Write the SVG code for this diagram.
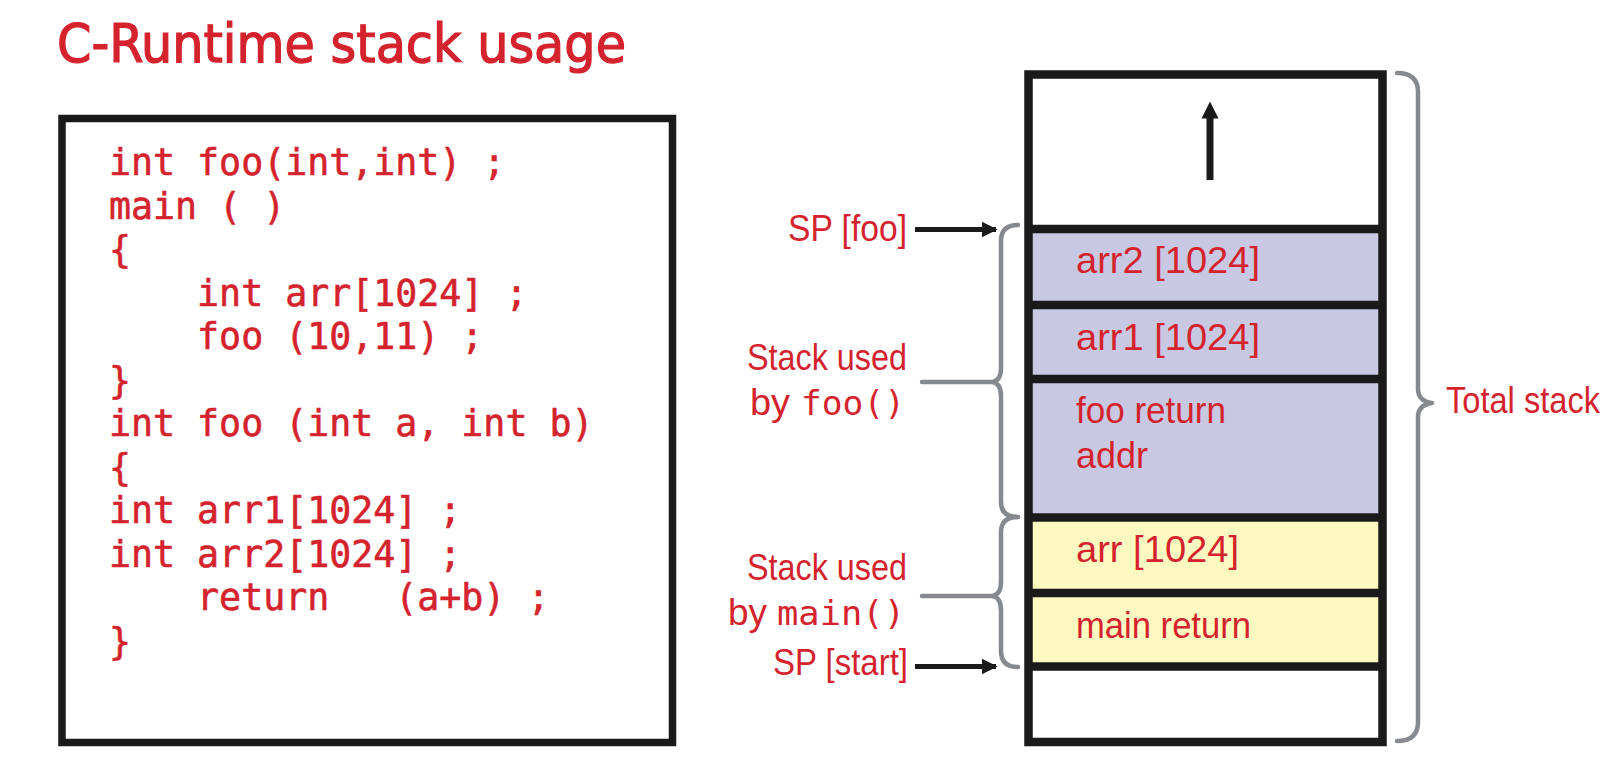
<svg xmlns="http://www.w3.org/2000/svg" width="1618" height="781" viewBox="0 0 1618 781">
<style>
.title{font-family:"DejaVu Sans Condensed","DejaVu Sans",sans-serif;font-size:54px;fill:#d4232d;stroke:#d4232d;stroke-width:1.2}
.code{font-family:"DejaVu Sans Mono","Liberation Mono",monospace;font-size:36.6px;fill:#d4232d;stroke:#d4232d;stroke-width:0.6}
.lbl{font-family:"Liberation Sans",Arial,sans-serif;font-size:37px;fill:#d4232d}
.mono{font-family:"DejaVu Sans Mono","Liberation Mono",monospace;font-size:34px;fill:#d4232d}
.box{fill:#ffffff;stroke:#1a1a1a;stroke-width:7.5}
.div{stroke:#1a1a1a;stroke-width:8.5}
.brace{fill:none;stroke:#868a8e;stroke-width:4.5;stroke-linecap:round;stroke-linejoin:round}
.arrow{stroke:#1a1a1a;stroke-width:5}
.purple{fill:#c9c8e2}
.yellow{fill:#fef9c1}
</style>
<defs>
<marker id="ah" viewBox="0 0 10 10" refX="9" refY="5" markerWidth="3.2" markerHeight="3.4" orient="auto" markerUnits="strokeWidth">
<path d="M0,0 L10,5 L0,10 Z" fill="#1a1a1a"/>
</marker>
</defs>
<rect width="1618" height="781" fill="#ffffff"/>
<g id="title">
<text class="title" x="57" y="62" textLength="569" lengthAdjust="spacingAndGlyphs">C-Runtime stack usage</text>
</g>
<g id="code">
<rect class="box" x="62" y="118.5" width="610.5" height="624"/>
<text class="code" xml:space="preserve" x="109" y="175">int foo(int,int) ;</text>
<text class="code" xml:space="preserve" x="109" y="218.5">main ( )</text>
<text class="code" xml:space="preserve" x="109" y="262">{</text>
<text class="code" xml:space="preserve" x="109" y="305.5">    int arr[1024] ;</text>
<text class="code" xml:space="preserve" x="109" y="349">    foo (10,11) ;</text>
<text class="code" xml:space="preserve" x="109" y="392.5">}</text>
<text class="code" xml:space="preserve" x="109" y="436">int foo (int a, int b)</text>
<text class="code" xml:space="preserve" x="109" y="479.5">{</text>
<text class="code" xml:space="preserve" x="109" y="523">int arr1[1024] ;</text>
<text class="code" xml:space="preserve" x="109" y="566.5">int arr2[1024] ;</text>
<text class="code" xml:space="preserve" x="109" y="610">    return   (a+b) ;</text>
<text class="code" xml:space="preserve" x="109" y="653.5">}</text>
</g>
<g id="stack">
<rect class="purple" x="1030" y="229" width="350" height="288.5"/>
<rect class="yellow" x="1030" y="517.5" width="350" height="149"/>
<rect x="1028.5" y="74.5" width="354" height="667.5" fill="none" stroke="#1a1a1a" stroke-width="8.5"/>
<line class="div" x1="1028.5" y1="229" x2="1382.5" y2="229"/>
<line class="div" x1="1028.5" y1="305" x2="1382.5" y2="305"/>
<line class="div" x1="1028.5" y1="379" x2="1382.5" y2="379"/>
<line class="div" x1="1028.5" y1="517.5" x2="1382.5" y2="517.5"/>
<line class="div" x1="1028.5" y1="593" x2="1382.5" y2="593"/>
<line class="div" x1="1028.5" y1="666.5" x2="1382.5" y2="666.5"/>
<line x1="1210" y1="180" x2="1210" y2="114" stroke="#1a1a1a" stroke-width="7"/>
<path d="M1201.5,118.5 L1210,101.5 L1218.5,118.5 Z" fill="#1a1a1a"/>
</g>
<g id="cell-arr2"><text class="lbl" x="1076" y="273" textLength="184" lengthAdjust="spacingAndGlyphs">arr2 [1024]</text></g>
<g id="cell-arr1"><text class="lbl" x="1076" y="350" textLength="184" lengthAdjust="spacingAndGlyphs">arr1 [1024]</text></g>
<g id="cell-foo-ret"><text class="lbl" x="1076" y="423" textLength="150" lengthAdjust="spacingAndGlyphs">foo return</text>
<text class="lbl" x="1076" y="468" textLength="72" lengthAdjust="spacingAndGlyphs">addr</text></g>
<g id="cell-arr"><text class="lbl" x="1076" y="562" textLength="163" lengthAdjust="spacingAndGlyphs">arr [1024]</text></g>
<g id="cell-main-ret"><text class="lbl" x="1076" y="638" textLength="175" lengthAdjust="spacingAndGlyphs">main return</text></g>
<g id="label-sp-foo"><text class="lbl" x="788" y="241" textLength="119" lengthAdjust="spacingAndGlyphs">SP [foo]</text></g>
<g id="label-foo-stack">
<text class="lbl" x="747" y="370" textLength="160" lengthAdjust="spacingAndGlyphs">Stack used</text>
<text class="lbl" x="750" y="415" textLength="40" lengthAdjust="spacingAndGlyphs">by</text>
<text class="mono" x="801" y="415" textLength="104" lengthAdjust="spacingAndGlyphs">foo()</text>
</g>
<g id="label-main-stack">
<text class="lbl" x="747" y="580" textLength="160" lengthAdjust="spacingAndGlyphs">Stack used</text>
<text class="lbl" x="728" y="625" textLength="39" lengthAdjust="spacingAndGlyphs">by</text>
<text class="mono" x="777" y="625" textLength="128" lengthAdjust="spacingAndGlyphs">main()</text>
</g>
<g id="label-sp-start"><text class="lbl" x="773" y="675" textLength="135" lengthAdjust="spacingAndGlyphs">SP [start]</text></g>
<g id="label-total"><text class="lbl" x="1446" y="413" textLength="154" lengthAdjust="spacingAndGlyphs">Total stack</text></g>
<g id="connectors">
<line class="arrow" x1="915" y1="229.5" x2="996" y2="229.5" marker-end="url(#ah)"/>
<line class="arrow" x1="915" y1="666.5" x2="996" y2="666.5" marker-end="url(#ah)"/>
<path class="brace" d="M1018,225 Q1001,225 1001,241 L1001,368 Q1001,380 993,382 Q1001,384 1001,396 L1001,502 Q1001,517 1018,517"/>
<path class="brace" d="M1018,517 Q1001,517 1001,532 L1001,582 Q1001,594 993,596 Q1001,598 1001,610 L1001,651 Q1001,667 1018,667"/>
<line class="brace" x1="922" y1="382" x2="993" y2="382" stroke-width="5"/>
<line class="brace" x1="922" y1="596" x2="993" y2="596" stroke-width="5"/>
<path class="brace" d="M1397,73 Q1418,73 1418,92 L1418,389 Q1418,401 1432,403 Q1418,405 1418,417 L1418,722 Q1418,741 1397,741"/>
</g>
</svg>
